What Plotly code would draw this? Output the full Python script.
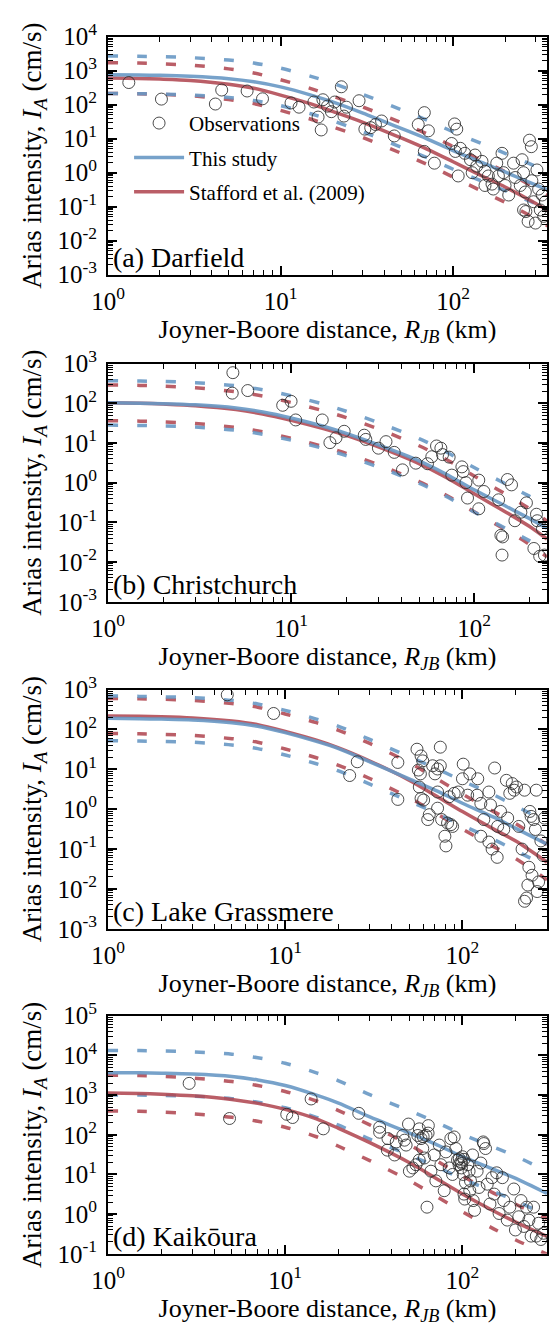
import math
import numpy as np
import plotly.graph_objects as go

FONT = "Liberation Serif"
BLUE = "rgba(104,152,196,0.9)"
RED = "rgba(176,72,82,0.88)"
OBS = "rgba(45,45,45,0.85)"

# ---------------- (a) Darfield ----------------
darfield_r = [1, 1.5, 2, 3, 5, 7, 10, 15, 20, 30, 50, 70, 100, 150, 200, 300, 360]
# log10 of median Arias intensity (cm/s)
darfield_this_log = [2.88, 2.87, 2.86, 2.83, 2.76, 2.67, 2.52, 2.28, 2.08, 1.75, 1.30, 1.00, 0.65, 0.28, 0.02, -0.36, -0.52]
darfield_stafford_log = [2.78, 2.77, 2.75, 2.71, 2.60, 2.48, 2.28, 2.02, 1.80, 1.48, 1.02, 0.70, 0.32, -0.12, -0.42, -0.90, -1.14]
darfield_obs_r = [1.32, 2.04, 4.19, 4.56, 6.4, 7.86, 11.5, 12.8, 15.6, 16.5, 17.2, 17.6, 18.7, 19.7, 20.6, 22.5,
                  23.3, 24.1, 28.5, 30.8, 33.3, 35.5, 38.5, 45.6, 62.8, 68.1, 68.1, 71.9, 77.9, 102, 105, 107,
                  98, 110, 117, 126, 134, 137, 147, 153, 160, 168, 171, 179, 183, 192, 196, 200, 210, 224, 229,
                  251, 256, 262, 264, 272, 277, 284, 286, 293, 300, 306, 313, 328, 335, 320, 103, 129, 153, 245,
                  256, 343]
darfield_obs_ia = [445, 145, 104, 268, 251, 148, 112, 84, 119, 43, 18, 139, 90, 62, 119, 334,
                   46, 84, 130, 19, 21, 26, 33, 12, 26, 58, 4.2, 17, 1.9, 27, 19, 0.80,
                   7.2, 5.2, 3.7, 2.4, 3.3, 1.55, 2.15, 1.1, 0.80, 0.46, 0.33, 1.9, 0.80, 3.7, 1.0, 0.42, 0.22, 1.9, 0.72,
                   2.4, 1.0, 0.27, 0.072, 0.037, 9.0, 5.8, 0.58, 0.14, 0.033, 1.2, 0.33, 0.22, 0.052, 0.080, 4.2, 1.0, 0.42, 0.42,
                   0.080, 0.14]

# ---------------- (b) Christchurch ----------------
christchurch_r = [1, 1.5, 2, 3, 5, 7, 10, 15, 20, 30, 50, 70, 100, 150, 200, 250]
christchurch_this_log = [2.01, 2.00, 1.99, 1.96, 1.88, 1.78, 1.63, 1.42, 1.24, 0.95, 0.55, 0.22, -0.18, -0.60, -0.90, -1.15]
christchurch_stafford_log = [2.01, 2.00, 1.98, 1.94, 1.84, 1.73, 1.57, 1.36, 1.19, 0.90, 0.48, 0.14, -0.28, -0.75, -1.10, -1.42]
christchurch_obs_r = [4.81, 4.77, 5.8, 9.0, 10, 10.6, 14.8, 16.3, 17.6, 19.5, 25.1, 25.6, 30, 33, 36.6, 40.6,
                      48, 55.6, 58.7, 62.3, 65.8, 67.2, 73, 75.5, 85.7, 87.1, 90.2, 92, 106, 106, 113, 136,
                      140, 143, 142, 152, 160, 167, 180, 193, 212, 219, 221, 228, 236, 242]
christchurch_obs_ia = [590, 180, 209, 89, 112, 38, 38, 10.2, 13.5, 19.7, 15.7, 12.3, 7.4, 10.8, 5.8, 2.1,
                       3.1, 3.0, 4.5, 8.4, 7.4, 5.1, 4.4, 1.55, 2.5, 1.9, 1.0, 0.41, 1.16, 0.22, 0.60, 0.37,
                       0.047, 0.043, 0.015, 1.2, 0.88, 0.11, 0.18, 0.31, 0.022, 0.16, 0.11, 0.014, 0.069, 0.015]

# ---------------- (c) Lake Grassmere ----------------
grassmere_r = [1, 1.5, 2, 3, 5, 7, 10, 15, 20, 30, 50, 70, 100, 150, 200, 300]
grassmere_this_log = [2.28, 2.27, 2.26, 2.24, 2.17, 2.08, 1.92, 1.70, 1.52, 1.19, 0.76, 0.48, 0.15, -0.20, -0.48, -0.88]
grassmere_stafford_log = [2.34, 2.33, 2.32, 2.29, 2.21, 2.12, 1.95, 1.73, 1.54, 1.21, 0.73, 0.35, -0.06, -0.50, -0.80, -1.33]
grassmere_obs_r = [4.71, 8.6, 25.5, 23.1, 43.2, 43.2, 55.4, 58.4, 59.7, 56.4, 57.9, 57.1, 58.4, 60.4, 65, 67.9,
                   70, 72.4, 75, 75, 72.4, 76.3, 72.4, 79.6, 80.7, 84.2, 86.1, 88, 89.8, 94.6, 101, 100,
                   107, 110, 122, 121, 127, 132, 141, 144, 152, 147, 157, 158, 164, 171, 177, 180, 185, 191,
                   196, 202, 208, 217, 224, 224, 230, 234, 237, 240, 244, 247, 252, 258, 261, 264, 269, 277,
                   285, 290, 82.4, 63.7, 141, 127]
grassmere_obs_ia = [740, 252, 15.5, 7.0, 14.9, 1.76, 32, 21.7, 16.3, 9.6, 7.7, 3.6, 1.86, 1.7, 0.73, 12.3,
                    7.7, 10.2, 36, 12.3, 1.06, 0.55, 2.7, 0.21, 0.12, 2.05, 0.41, 0.37, 2.5, 2.7, 13.5, 5.8,
                    2.25, 7.7, 5.8, 2.25, 0.21, 0.55, 2.7, 1.28, 10.8, 0.10, 0.062, 0.37, 0.88, 0.31, 5.3, 0.60, 2.5, 4.4,
                    3.0, 3.6, 0.37, 0.10, 3.0, 0.0049, 0.0059, 0.0125, 0.035, 0.88, 0.66, 0.022, 0.55, 0.31, 3.0, 0.0086, 0.015, 0.16,
                    0.069, 0.60, 0.45, 0.55, 0.15, 1.4]

# ---------------- (d) Kaikoura ----------------
kaikoura_r = [1, 1.5, 2, 3, 5, 7, 10, 15, 20, 30, 50, 70, 100, 150, 200, 300]
kaikoura_this_log = [3.56, 3.56, 3.55, 3.53, 3.47, 3.38, 3.24, 3.00, 2.80, 2.45, 2.05, 1.77, 1.45, 1.13, 0.90, 0.52]
kaikoura_stafford_log = [3.05, 3.04, 3.02, 2.98, 2.89, 2.79, 2.64, 2.40, 2.16, 1.80, 1.30, 0.92, 0.51, 0.08, -0.20, -0.56]
kaikoura_obs_r = [2.87, 4.85, 10.2, 11, 14, 16.4, 26, 34.1, 34.1, 38, 37.7, 41.4, 46.1, 47.1, 48.1, 49.6,
                  50.2, 52.5, 54.7, 56, 57.1, 58.4, 59.7, 61, 62.3, 63.1, 64.2, 66.4, 69.3, 70.8, 74, 75.6,
                  78.9, 80.7, 84.2, 87.9, 89.8, 91.8, 93.8, 95.7, 97.9, 98.7, 100, 101, 102, 103, 104, 107,
                  109, 110, 111, 114, 115, 117, 121, 124, 127, 131, 135, 138, 143, 147, 151, 156, 161, 168,
                  171, 179, 185, 195, 199, 208, 214, 222, 230, 237, 244, 252, 261, 269, 277, 287, 42.3, 86,
                  132, 57, 96, 99, 102, 60, 64]
kaikoura_obs_ia = [1970, 257, 328, 272, 798, 141, 347, 155, 116, 80, 41, 31, 96, 73, 55, 186,
                   12.1, 14.6, 17.6, 96, 141, 80, 45, 26, 96, 1.5, 170, 12.1, 31, 6.9, 55, 17.6,
                   3.9, 37, 14.6, 10, 88, 45, 23, 17.6, 21, 14.6, 28, 10, 3.2, 2.4, 6.2, 17.6,
                   12.1, 3.9, 6.9, 31, 2.2, 1.25, 12.1, 4.7, 19.4, 66, 45, 5.7, 1.8, 8.3, 3.2, 11, 1.04, 8.3,
                   2.2, 0.71, 1.5, 4.3, 0.40, 0.86, 2.2, 0.49, 1.5, 0.71, 0.28, 1.5, 0.28, 0.59, 0.23, 0.33, 66, 80,
                   60, 23, 25, 19, 24, 90, 110]

# standard deviations (log10 units) of the two models, per event
sigma_this = [0.55, 0.56, 0.56, 0.56]
sigma_stafford = [0.45, 0.45, 0.44, 0.45]

panel_labels = ["(a) Darfield", "(b) Christchurch", "(c) Lake Grassmere", "(d) Kaikōura"]
x_max = [350, 250, 300, 300]
y_log_range = [(-3, 4), (-3, 3), (-3, 3), (-1, 5)]

panels = [
    (darfield_r, darfield_this_log, darfield_stafford_log, darfield_obs_r, darfield_obs_ia),
    (christchurch_r, christchurch_this_log, christchurch_stafford_log, christchurch_obs_r, christchurch_obs_ia),
    (grassmere_r, grassmere_this_log, grassmere_stafford_log, grassmere_obs_r, grassmere_obs_ia),
    (kaikoura_r, kaikoura_this_log, kaikoura_stafford_log, kaikoura_obs_r, kaikoura_obs_ia),
]

W, H = 551, 1344
# vertical pixel extents (top, bottom) of each plotting area
plot_px = [(19, 263), (354, 598), (688, 933), (1022, 1266)]

fig = go.Figure()

for i, (r, this_log, staf_log, obs_r, obs_ia) in enumerate(panels):
    xref = "x" if i == 0 else f"x{i + 1}"
    yref = "y" if i == 0 else f"y{i + 1}"
    this_med = np.array(this_log)
    staf_med = np.array(staf_log)
    first = i == 0

    def add_line(logv, color, dash, name=None, legend=False, rank=None, group=None):
        fig.add_trace(go.Scatter(
            x=r, y=10 ** logv, mode="lines",
            line=dict(color=color, width=3.5, dash=dash, shape="spline", smoothing=0.8),
            name=name, showlegend=legend, legendrank=rank or 1000, legendgroup=group,
            xaxis=xref, yaxis=yref, hoverinfo="skip"))

    dash = "10px,19px"
    add_line(staf_med + sigma_stafford[i], RED, dash)
    add_line(staf_med - sigma_stafford[i], RED, dash)
    add_line(this_med + sigma_this[i], BLUE, dash)
    add_line(this_med - sigma_this[i], BLUE, dash)
    add_line(staf_med, RED, "solid", "Stafford et al. (2009)", first, 3, "g3")
    add_line(this_med, BLUE, "solid", "This study", first, 2, "g2")

    fig.add_trace(go.Scatter(
        x=obs_r, y=obs_ia, mode="markers", name="Observations",
        marker=dict(symbol="circle-open", size=12, color=OBS, line=dict(width=1.0, color=OBS)),
        showlegend=first, legendrank=1, legendgroup="g1", xaxis=xref, yaxis=yref))

    top, bot = plot_px[i]
    lo, hi = y_log_range[i]
    xmaj = [1, 10, 100]
    xmin = [m * 10 ** k for k in range(3) for m in range(2, 10) if m * 10 ** k <= x_max[i]]
    ymaj = [10.0 ** k for k in range(lo, hi + 1)]
    ymin = [m * 10.0 ** k for k in range(lo, hi) for m in range(2, 10)]

    common = dict(
        type="log", showline=True, linewidth=2, linecolor="black", mirror="allticks",
        ticks="inside", ticklen=9, tickwidth=1.6, tickcolor="black",
        showgrid=False, zeroline=False,
        tickfont=dict(family=FONT, size=25, color="black"),
    )
    fig.layout[("xaxis" if i == 0 else f"xaxis{i + 1}")] = dict(
        common, range=[0, math.log10(x_max[i])], domain=[0, 1], anchor=yref,
        tickmode="array", tickvals=xmaj, ticktext=[f"10<sup>{k}</sup>" for k in range(3)],
        minor=dict(tickmode="array", tickvals=xmin, ticks="inside", ticklen=5, tickwidth=1.3,
                   tickcolor="black", showgrid=False),
        ticklabelstandoff=3,
        title=dict(text="Joyner-Boore distance, <i>R</i><sub><i>JB</i></sub> (km)",
                   font=dict(family=FONT, size=26, color="black"), standoff=2),
    )
    fig.layout[("yaxis" if i == 0 else f"yaxis{i + 1}")] = dict(
        common, range=[lo, hi], domain=[1 - bot / H, 1 - top / H], anchor=xref,
        tickmode="array", tickvals=ymaj,
        ticktext=[f"10<sup>{k}</sup>" for k in range(lo, hi + 1)],
        minor=dict(tickmode="array", tickvals=ymin, ticks="inside", ticklen=5, tickwidth=1.3,
                   tickcolor="black", showgrid=False),
        ticklabelstandoff=4,
        title=dict(text="Arias intensity, <i>I</i><sub><i>A</i></sub> (cm/s)",
                   font=dict(family=FONT, size=27, color="black"), standoff=8),
    )
    fig.add_annotation(
        text=panel_labels[i], xref=f"{xref} domain", yref=f"{yref} domain",
        x=0.006, y=0.0, xanchor="left", yanchor="bottom", showarrow=False,
        font=dict(family=FONT, size=28, color="black"))

fig.update_layout(
    width=W, height=H,
    margin=dict(l=108, r=4, t=0, b=0),
    paper_bgcolor="white", plot_bgcolor="white",
    font=dict(family=FONT, color="black"),
    legend=dict(x=0.048, y=1 - 87 / H, xanchor="left", yanchor="top",
                bgcolor="rgba(0,0,0,0)", font=dict(family=FONT, size=21, color="black"),
                itemwidth=50, tracegroupgap=4),
    showlegend=True,
)

fig.write_html("out.html")
